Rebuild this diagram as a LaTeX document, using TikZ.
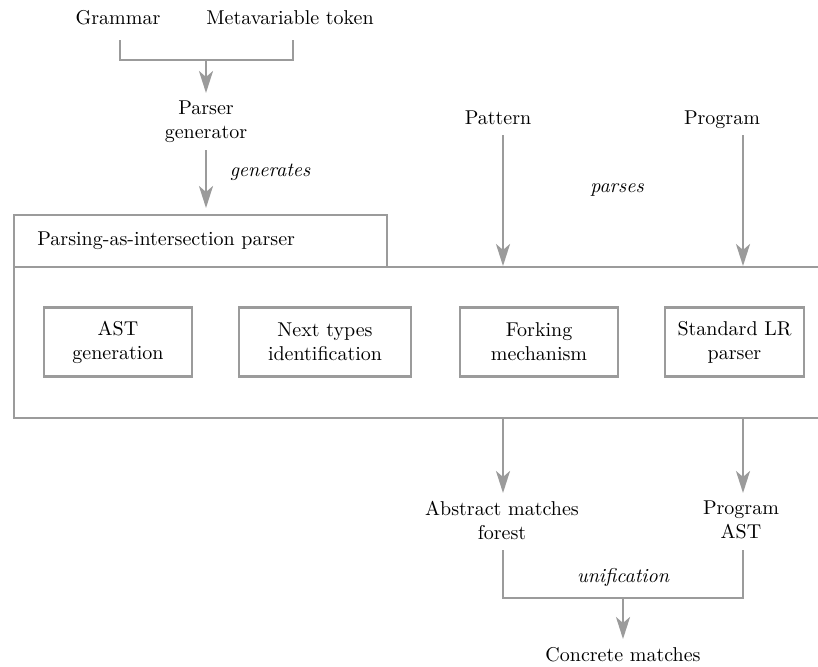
\documentclass[tikz,border=0pt]{standalone}
\usetikzlibrary{arrows.meta,fit}
\definecolor{lgray}{RGB}{155,155,155}
\begin{document}
\begin{tikzpicture}[x=0.5pt,y=-0.5pt,
  ln/.style={draw=lgray,line width=1.3pt},
  arr/.style={ln,-{Stealth[length=11pt,width=7pt,inset=3pt]}},
  lbl/.style={inner sep=0pt,font=\normalsize,align=center},
  boxr/.style={draw=lgray,line width=1.3pt,inner sep=0pt},
  comp/.style={draw=lgray,line width=1.3pt,align=center,minimum height=34.5pt,inner sep=0pt},
  lab/.style={inner sep=0pt,font=\itshape}]
\useasboundingbox (0,0) rectangle (818,666);
\clip (0,0) rectangle (818,666);
% top inputs
\node[lbl] (gram) at (118,18) {Grammar};
\node[lbl] (meta) at (290,18) {Metavariable token};
\coordinate (g1) at (120,40);
\coordinate (m1) at (293,40);
\coordinate (j1) at (206,60);
\node[lbl] (pgen) at (206,122) {Parser\\generator};
\draw[ln] (g1) |- (j1) -| (m1);
\draw[arr] (j1) -- (206,93) coordinate (pgt);
\coordinate (pgb) at (206,150);
\coordinate (tabt) at (206,208);
\draw[arr] (pgb) -- (tabt);
\node[lab] (gen) at (270,172) {generates};
% parser boxes
\node[boxr,fit={(14,215) (387,267)}] (tab) {};
\node[lbl,anchor=west] (tabtxt) at (37,241) {Parsing-as-intersection parser};
\node[boxr,fit={(14,267) (840,418)}] (main) {};
\node[comp,minimum width=74pt] (ast) at (118,342) {AST\\generation};
\node[comp,minimum width=86pt] (next) at (325,342) {Next types\\identification};
\node[comp,minimum width=79pt] (fork) at (539,342) {Forking\\mechanism};
\node[comp,minimum width=69.5pt] (lr) at (734.5,342) {Standard LR\\parser};
% pattern / program
\node[lbl] (pat) at (498,118) {Pattern};
\node[lbl] (prog) at (722,120) {Program};
\coordinate (pa1) at (503,135);
\coordinate (pa2) at (503,266);
\coordinate (pr1) at (743,135);
\coordinate (pr2) at (743,266);
\draw[arr] (pa1) -- (pa2);
\draw[arr] (pr1) -- (pr2);
\node[lab] (parses) at (617,190) {parses};
% outputs
\coordinate (o1) at (503,419);
\coordinate (o2) at (743,419);
\node[lbl] (abs) at (502,520) {Abstract matches\\forest};
\node[lbl] (past) at (741,520) {Program\\AST};
\draw[arr] (o1) -- (503,493);
\draw[arr] (o2) -- (743,493);
\coordinate (a1) at (503,550);
\coordinate (b1) at (743,550);
\coordinate (j2) at (623,598);
\draw[ln] (a1) |- (j2) -| (b1);
\node[lab] (unif) at (623,577) {unification};
\node[lbl] (conc) at (623,655) {Concrete matches};
\draw[arr] (j2) -- (623,639);
\end{tikzpicture}
\end{document}
